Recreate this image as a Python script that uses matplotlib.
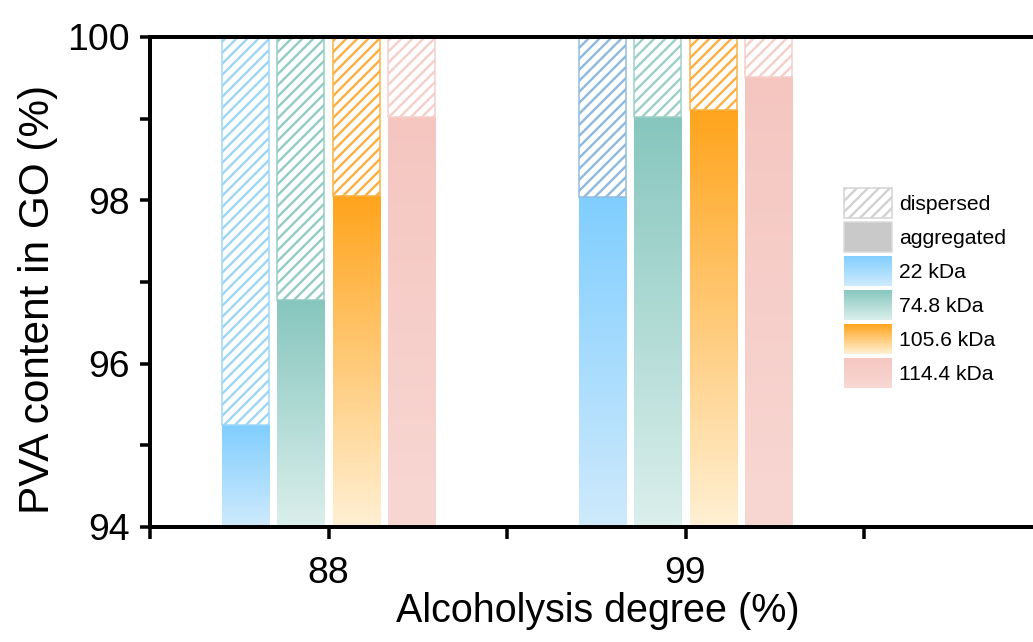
import numpy as np
import matplotlib
matplotlib.use('Agg')
import matplotlib.pyplot as plt
from matplotlib import font_manager
from matplotlib.colors import to_rgb
from matplotlib.patches import Rectangle, Patch
from matplotlib.legend_handler import HandlerBase

# data
degrees = ['88', '99']
series = ['22 kDa', '74.8 kDa', '105.6 kDa', '114.4 kDa']
agg_88 = [95.25, 96.78, 98.05, 99.02]   # aggregated share, %
agg_99 = [98.04, 99.02, 99.11, 99.51]
ymin, ymax = 94, 100

# colours: gradient top / bottom, hatch colour per group
top_cols = ['#80ceff', '#86c6be', '#ffa41c', '#f5c6c0']
bot_cols = ['#cfeafc', '#dbefec', '#fff0d4', '#f8d7d3']
hatch_88 = ['#9fd6f8', '#93ccc3', '#fbb043', '#f5cfca']
hatch_99 = ['#90badf', '#9dd0c8', '#fbb043', '#f5cfca']

DPI = 66
def px(v):
    return v * 72 / DPI

names = {f.name for f in font_manager.fontManager.ttflist}
if 'Liberation Sans Narrow' in names:
    fam = ['Liberation Sans Narrow', 'DejaVu Sans']
    kt, kx, ky, kl = 1.0, 1.0, 1.0, 1.0
else:
    fam = ['Liberation Sans', 'DejaVu Sans']
    kt, kx, ky, kl = 0.87, 0.86, 0.88, 0.88
plt.rcParams['font.family'] = fam
plt.rcParams['hatch.linewidth'] = px(2.4)

fig = plt.figure(figsize=(1033 / DPI, 642 / DPI), dpi=DPI)
ax = fig.add_axes([150 / 1033, 115 / 642, 892.5 / 1033, 490 / 642])

width = 0.265
offsets = (np.arange(4) - 1.5) * 0.31
centers = [1, 3]


def grad_img(top, bot, n=256):
    t = np.linspace(0, 1, n)[:, None, None]
    return np.array(to_rgb(bot)) + (np.array(to_rgb(top)) - np.array(to_rgb(bot))) * t


for c, aggs, hcols in zip(centers, [agg_88, agg_99], [hatch_88, hatch_99]):
    for i, v in enumerate(aggs):
        x = c + offsets[i]
        b = ax.bar(x, v - ymin, bottom=ymin, width=width, color='none', linewidth=0)[0]
        im = ax.imshow(grad_img(top_cols[i], bot_cols[i]),
                       extent=[b.get_x(), b.get_x() + b.get_width(), ymin, v],
                       origin='lower', aspect='auto', interpolation='bilinear', zorder=2)
        im.set_clip_path(b)
        ax.bar(x, ymax - v, bottom=v, width=width, facecolor='white',
               edgecolor=hcols[i], hatch='//', linewidth=px(1.5), zorder=3)

ax.set_xlim(0, 5)
ax.set_ylim(ymin, ymax)
ax.set_aspect('auto')

for s in ['left', 'bottom', 'top']:
    ax.spines[s].set_linewidth(px(4))
    ax.spines[s].set_zorder(5)
ax.spines['right'].set_visible(False)

ax.set_yticks([94, 96, 98, 100])
ax.set_yticks([95, 97, 99], minor=True)
ax.set_xticks([0, 1, 2, 3, 4])
ax.set_xticklabels(['', degrees[0], '', degrees[1], ''])
ax.tick_params(axis='y', which='both', direction='out', length=px(10), width=px(3.5),
               labelsize=px(43) * kt, pad=px(10))
ax.tick_params(axis='x', which='both', direction='out', length=px(12), width=px(3.5),
               labelsize=px(43) * kt, pad=px(17))

ax.set_xlabel('Alcoholysis degree (%)', fontsize=px(46) * kx)
ax.xaxis.set_label_coords(0.5014, -0.1335)
ax.set_ylabel('PVA content in GO (%)', fontsize=px(48) * ky)
ax.yaxis.set_label_coords(-0.103, 0.465)


class GradientKey:
    def __init__(self, top, bot):
        self.top = top
        self.bot = bot


class GradientHandler(HandlerBase):
    def create_artists(self, legend, orig_handle, xdescent, ydescent,
                       width, height, fontsize, trans):
        n = 40
        top = np.array(to_rgb(orig_handle.top))
        bot = np.array(to_rgb(orig_handle.bot))
        arts = []
        for j in range(n):
            t = (j + 0.5) / n
            r = Rectangle((-xdescent, -ydescent + height * j / n), width, height / n * 1.1,
                          facecolor=bot + (top - bot) * t, edgecolor='none',
                          linewidth=0, transform=trans)
            arts.append(r)
        return arts


handles = [Patch(facecolor='white', edgecolor='#d2d2d2', hatch='//', linewidth=px(1.5)),
           Patch(facecolor='#c9c9c9', edgecolor='#d9d9d9', linewidth=px(1.5))]
handles += [GradientKey(t, b) for t, b in zip(top_cols, bot_cols)]
labels = ['dispersed', 'aggregated'] + series

fs = 24 * kl  # legend font size in pixels
hh = (30 / fs - 0.245) / 0.65
leg = fig.legend(handles, labels, loc='upper left',
                 bbox_to_anchor=(844 / 1033, 1 - 188 / 642), bbox_transform=fig.transFigure,
                 frameon=False, borderpad=0, borderaxespad=0,
                 prop={'size': px(fs)},
                 handlelength=48 / fs, handleheight=hh,
                 labelspacing=4 / fs, handletextpad=7 / fs,
                 handler_map={GradientKey: GradientHandler()})

fig.savefig('out.png', dpi=DPI)
